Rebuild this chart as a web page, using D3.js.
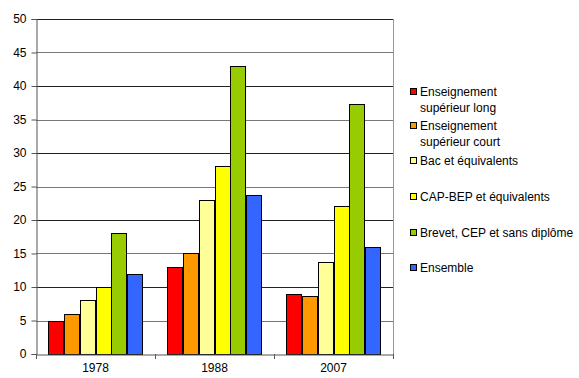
<!DOCTYPE html>
<html>
<head>
<meta charset="utf-8">
<script src="https://cdn.jsdelivr.net/npm/d3@7"></script>
<style>
  body { margin: 0; background: #fff; }
  text { font-family: "Liberation Sans", Arial, sans-serif; }
</style>
</head>
<body>
<script>
// data
var years = ['1978', '1988', '2007'];
var series = [
    'Enseignement supérieur long',
    'Enseignement supérieur court',
    'Bac et équivalents',
    'CAP-BEP et équivalents',
    'Brevet, CEP et sans diplôme',
    'Ensemble'
];
var legendLines = [
    ['Enseignement', 'supérieur long'],
    ['Enseignement', 'supérieur court'],
    ['Bac et équivalents'],
    ['CAP-BEP et équivalents'],
    ['Brevet, CEP et sans diplôme'],
    ['Ensemble']
];
var values1978 = [5, 6, 8, 10, 18, 12];
var values1988 = [13, 15, 23, 28, 43, 23.7];
var values2007 = [8.9, 8.7, 13.8, 22.1, 37.3, 16];
var yTicks = [0, 5, 10, 15, 20, 25, 30, 35, 40, 45, 50];
var colors = ['#ff0000', '#ff9900', '#ffff99', '#ffff00', '#99cc00', '#3366ff'];

var allValues = [values1978, values1988, values2007];

var svgWidth = 579, svgHeight = 378;
var plotLeft = 36, plotRight = 393, plotTop = 19, plotBottom = 354;

var svg = d3.select('body')
    .append('svg')
    .attr('width', svgWidth)
    .attr('height', svgHeight);

// scales
var xScale = d3.scaleBand()
    .domain(years)
    .range([plotLeft, plotRight]);

var xInner = d3.scaleBand()
    .domain(d3.range(series.length))
    .range([0, xScale.bandwidth()])
    .paddingOuter(0.76);

var yScale = d3.scaleLinear()
    .domain([0, 50])
    .range([plotBottom, plotTop]);

// gridlines
svg.append('g')
    .selectAll('line')
    .data(yTicks.slice(1))
    .enter()
    .append('line')
    .attr('x1', plotLeft)
    .attr('x2', plotRight)
    .attr('y1', d => Math.round(yScale(d)) + 0.5)
    .attr('y2', d => Math.round(yScale(d)) + 0.5)
    .attr('stroke', d => d % 10 === 0 ? '#222' : '#777')
    .attr('stroke-width', 1);

// right border
svg.append('line')
    .attr('x1', plotRight + 0.5).attr('x2', plotRight + 0.5)
    .attr('y1', plotTop).attr('y2', plotBottom)
    .attr('stroke', '#999');

// bars
var groups = svg.append('g')
    .selectAll('g')
    .data(years)
    .enter()
    .append('g')
    .attr('transform', d => `translate(${ xScale(d) }, 0)`);

groups.selectAll('rect')
    .data((d, i) => allValues[i])
    .enter()
    .append('rect')
    .attr('x', (d, i) => Math.round(xInner(i)) + 0.5)
    .attr('y', d => Math.round(yScale(d)) + 0.5)
    .attr('width', Math.round(xInner.bandwidth()) - 1)
    .attr('height', d => plotBottom - Math.round(yScale(d)))
    .attr('fill', (d, i) => colors[i])
    .attr('stroke', '#000')
    .attr('stroke-width', 1);

// y axis
var yAxis = d3.axisLeft(yScale).tickValues(yTicks).tickSize(5).tickPadding(5);
var gy = svg.append('g')
    .attr('transform', `translate(${ plotLeft + 0.5 }, 0)`)
    .call(yAxis);
gy.select('.domain').attr('stroke', '#555');
gy.selectAll('.tick line').attr('stroke', '#555');
gy.selectAll('.tick text')
    .attr('font-size', 12)
    .attr('font-family', '"Liberation Sans", Arial, sans-serif')
    .attr('fill', '#000');

// x axis
var xAxis = d3.axisBottom(xScale).tickSize(0).tickPadding(9);
var gx = svg.append('g')
    .attr('transform', `translate(0, ${ plotBottom + 0.5 })`)
    .call(xAxis);
gx.select('.domain').attr('stroke', '#555');
gx.selectAll('.tick text')
    .attr('font-size', 12)
    .attr('font-family', '"Liberation Sans", Arial, sans-serif')
    .attr('fill', '#000');

// category separators on x axis
svg.append('g')
    .selectAll('line')
    .data(years.concat(['end']))
    .enter()
    .append('line')
    .attr('x1', (d, i) => Math.round(i < years.length ? xScale(d) : plotRight) + 0.5)
    .attr('x2', (d, i) => Math.round(i < years.length ? xScale(d) : plotRight) + 0.5)
    .attr('y1', plotBottom)
    .attr('y2', plotBottom + 5)
    .attr('stroke', '#555');

// legend
var legendY = [92, 126, 161, 197, 233, 268];
var legend = svg.append('g')
    .selectAll('g')
    .data(series)
    .enter()
    .append('g')
    .attr('transform', (d, i) => `translate(410, ${ legendY[i] })`);

legend.append('rect')
    .attr('x', 0.5)
    .attr('y', -3.5)
    .attr('width', 6)
    .attr('height', 6)
    .attr('fill', (d, i) => colors[i])
    .attr('stroke', '#000');

legend.each(function(d, i) {
    var t = d3.select(this).append('text')
        .attr('x', 10)
        .attr('y', 4)
        .attr('font-size', 12)
        .attr('fill', '#000');
    legendLines[i].forEach((line, j) => {
        t.append('tspan')
            .attr('x', 10)
            .attr('dy', j === 0 ? 0 : 16)
            .text(line);
    });
});
</script>
</body>
</html>
